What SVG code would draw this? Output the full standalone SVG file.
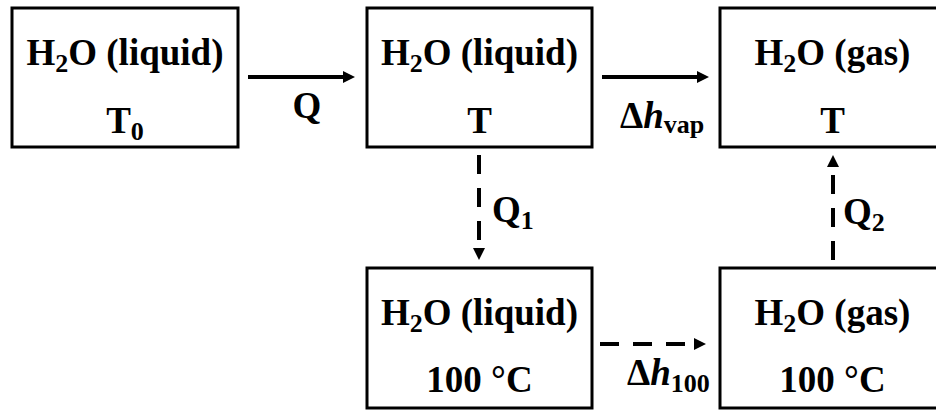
<svg xmlns="http://www.w3.org/2000/svg" width="936" height="410" viewBox="0 0 936 410">
<defs>
<style>
.box{fill:#fff;stroke:#000;stroke-width:3}
.t{font-weight:bold;font-size:37px;fill:#000}
.c{text-anchor:middle}
.sub{font-size:26px}
.ar{stroke:#000;stroke-width:4;fill:none}
.da{stroke-dasharray:19 14}
</style>
<marker id="ah" markerUnits="userSpaceOnUse" markerWidth="12" markerHeight="12" viewBox="0 0 12 12" refX="0" refY="6" orient="auto">
<path d="M0,0 L12,6 L0,12 z" fill="#000"/>
</marker>
</defs>
<rect width="936" height="410" fill="#fff"/>
<g font-family="Liberation Serif, Times New Roman, serif">
<g id="n1">
<rect class="box" x="12" y="8" width="226" height="139"/>
<text class="t c" x="125" y="65">H<tspan class="sub" dy="7">2</tspan><tspan dy="-7">O (liquid)</tspan></text>
<text class="t c" x="125" y="133">T<tspan class="sub" dy="7">0</tspan></text>
</g>
<g id="n2">
<rect class="box" x="367" y="8" width="225" height="139"/>
<text class="t c" x="479.5" y="65">H<tspan class="sub" dy="7">2</tspan><tspan dy="-7">O (liquid)</tspan></text>
<text class="t c" x="479.5" y="133">T</text>
</g>
<g id="n3">
<rect class="box" x="720" y="8" width="225" height="139"/>
<text class="t c" x="832.5" y="65">H<tspan class="sub" dy="7">2</tspan><tspan dy="-7">O (gas)</tspan></text>
<text class="t c" x="832.5" y="133">T</text>
</g>
<g id="n4">
<rect class="box" x="367" y="268" width="225" height="140"/>
<text class="t c" x="479.5" y="325">H<tspan class="sub" dy="7">2</tspan><tspan dy="-7">O (liquid)</tspan></text>
<text class="t c" x="479.5" y="392">100 °C</text>
</g>
<g id="n5">
<rect class="box" x="720" y="268" width="225" height="140"/>
<text class="t c" x="832.5" y="325">H<tspan class="sub" dy="7">2</tspan><tspan dy="-7">O (gas)</tspan></text>
<text class="t c" x="832.5" y="392">100 °C</text>
</g>
<g id="connectors">
<line class="ar" x1="248" y1="77" x2="343" y2="77" marker-end="url(#ah)"/>
<text class="t c" x="307" y="118">Q</text>
<line class="ar" x1="602" y1="77" x2="697" y2="77" marker-end="url(#ah)"/>
<text class="t" x="620" y="128">Δ<tspan font-style="italic">h</tspan><tspan class="sub" dy="5">vap</tspan></text>
<line class="ar da" x1="479" y1="155" x2="479" y2="248" marker-end="url(#ah)"/>
<text class="t" x="492" y="222">Q<tspan class="sub" dy="7">1</tspan></text>
<line class="ar da" x1="600" y1="344" x2="694" y2="344" marker-end="url(#ah)"/>
<text class="t" x="627" y="385">Δ<tspan font-style="italic">h</tspan><tspan class="sub" dy="7">100</tspan></text>
<line class="ar da" x1="833" y1="260" x2="833" y2="167" marker-end="url(#ah)"/>
<text class="t" x="843" y="224">Q<tspan class="sub" dy="7">2</tspan></text>
</g>
</g>
</svg>
